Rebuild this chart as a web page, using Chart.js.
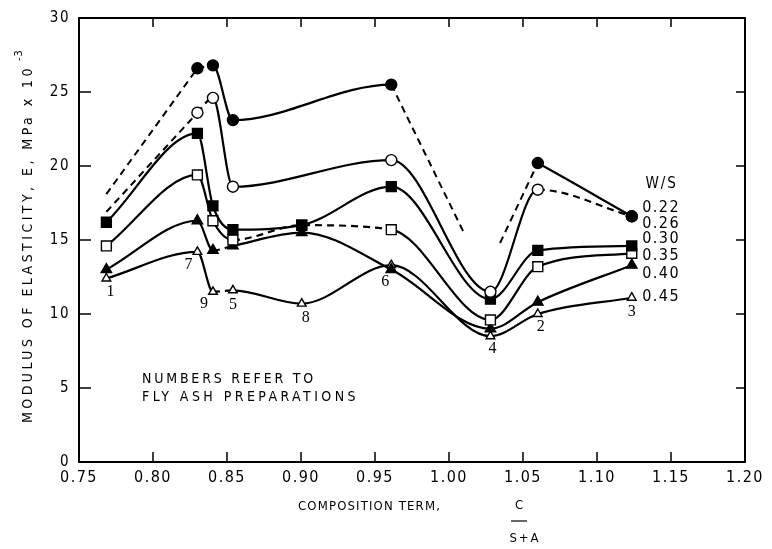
<!DOCTYPE html>
<html><head><meta charset="utf-8">
<script src="https://cdn.jsdelivr.net/npm/chart.js@4/dist/chart.umd.min.js"></script>
<style>html,body{margin:0;padding:0;background:#fff;}canvas{display:block}</style>
</head><body>
<canvas id="c" width="772" height="549"></canvas>
<script>
// ---- data ----
const xPrep = [0.7685, 0.830, 0.8405, 0.854, 0.9005, 0.961, 1.028, 1.060, 1.1235];
const prepNumbers = ['1', '7', '9', '5', '8', '6', '4', '2', '3'];
const wsLabels = ['0.22', '0.26', '0.30', '0.35', '0.40', '0.45'];
const ws022 = [null, 26.6, 26.8, 23.1, null, 25.5, null, 20.2, 16.6];
const ws026 = [null, 23.6, 24.6, 18.6, null, 20.4, 11.5, 18.4, 16.6];
const ws030 = [16.2, 22.2, 17.3, 15.7, 16.0, 18.6, 11.0, 14.3, 14.6];
const ws035 = [14.6, 19.4, 16.3, 15.0, 16.0, 15.7, 9.6, 13.2, 14.1];
const ws040 = [13.0, 16.3, 14.3, 14.6, 15.5, 13.0, 9.0, 10.8, 13.3];
const ws045 = [12.4, 14.2, 11.5, 11.6, 10.7, 13.3, 8.5, 10.0, 11.1];
// free ends of the dashed extrapolations (no marker)
const ws022Lead = [0.7685, 18.1];
const ws026Lead = [0.7685, 16.9];
const ws022GapEnds = [[1.011, 15.3], [1.0345, 14.8]];

// ---- styling / layout (not data) ----
const FONT = "'DejaVu Sans Condensed', 'DejaVu Sans', sans-serif";
const DASH = [7, 5];
const seriesStyle = [
  {style: 'circle', r: 5.5, fill: '#000', dashAfter: [1], hideAfter: [5]},
  {style: 'circle', r: 5.5, fill: '#fff', dashAfter: [1, 7], hideAfter: []},
  {style: 'rect', r: 7, fill: '#000', dashAfter: [], hideAfter: []},
  {style: 'rect', r: 7, fill: '#fff', dashAfter: [3, 4], hideAfter: []},
  {style: 'triangle', r: 6, fill: '#000', dashAfter: [2], hideAfter: []},
  {style: 'triangle', r: 5, fill: '#fff', dashAfter: [2], hideAfter: []}
];
const numberOffsets = [[4, 13], [-9, 13], [-9, 12], [0, 14], [4, 14], [-6, 17], [2, 13], [3, 13], [0, 14]];
const legendPos = {ws: [1.1437, 18.77], x: 1.1305, ys: [17.15, 16.12, 15.06, 13.94, 12.74, 11.13]};

const seriesValues = [ws022, ws026, ws030, ws035, ws040, ws045];

const datasets = seriesValues.map((vals, k) => {
  const st = seriesStyle[k];
  const pts = [];
  vals.forEach((v, i) => { if (v !== null) pts.push({x: xPrep[i], y: v, idx: i}); });
  return {
    label: wsLabels[k],
    data: pts,
    borderColor: '#000',
    borderWidth: 2.2,
    cubicInterpolationMode: 'monotone',
    pointStyle: st.style,
    pointRadius: st.r,
    pointBackgroundColor: st.fill,
    pointBorderColor: '#000',
    pointBorderWidth: 1.4,
    order: k,
    segment: {
      borderDash: c => st.dashAfter.includes(pts[c.p0DataIndex].idx) ? DASH : undefined,
      borderColor: c => st.hideAfter.includes(pts[c.p0DataIndex].idx) ? 'rgba(0,0,0,0)' : undefined
    }
  };
});

// straight dashed extrapolations
function dashLine(a, b) {
  return {
    data: [{x: a[0], y: a[1]}, {x: b[0], y: b[1]}],
    borderColor: '#000', borderWidth: 2, borderDash: DASH,
    tension: 0, pointRadius: 0, order: 10
  };
}
datasets.push(
  dashLine(ws022Lead, [xPrep[1], ws022[1]]),
  dashLine([xPrep[5], ws022[5]], ws022GapEnds[0]),
  dashLine(ws022GapEnds[1], [xPrep[7], ws022[7]]),
  dashLine(ws026Lead, [xPrep[1], ws026[1]])
);

function txt(ctx, s, x, y, font, align, spacing, baseline) {
  ctx.save();
  ctx.font = font; ctx.fillStyle = '#000';
  ctx.letterSpacing = (spacing || 0) + 'px';
  ctx.textAlign = align || 'left'; ctx.textBaseline = baseline || 'middle';
  ctx.fillText(s, x, y);
  ctx.restore();
}
function fitText(ctx, s, x, y, font, width) {
  ctx.save(); ctx.font = font; ctx.letterSpacing = '0px';
  const w = ctx.measureText(s).width; ctx.restore();
  const sp = (width - w) / s.length;
  txt(ctx, s, x, y, font, 'left', sp);
}

const decor = {
  id: 'decor',
  beforeDraw(chart) { chart.ctx.letterSpacing = '1.5px'; },
  afterDraw(chart) {
    const ctx = chart.ctx, a = chart.chartArea, xs = chart.scales.x, ys = chart.scales.y;
    ctx.save();
    ctx.letterSpacing = '0px';
    ctx.strokeStyle = '#000';
    ctx.lineWidth = 2;
    ctx.strokeRect(a.left, a.top, a.right - a.left, a.bottom - a.top);
    ctx.lineWidth = 1.5;
    ctx.beginPath();
    xs.ticks.forEach(t => {
      const p = xs.getPixelForValue(t.value);
      if (p <= a.left + 2 || p >= a.right - 2) return;
      ctx.moveTo(p, a.bottom); ctx.lineTo(p, a.bottom - 10);
      ctx.moveTo(p, a.top); ctx.lineTo(p, a.top + 9);
    });
    ys.ticks.forEach(t => {
      const p = ys.getPixelForValue(t.value);
      if (p <= a.top + 2 || p >= a.bottom - 2) return;
      ctx.moveTo(a.left, p); ctx.lineTo(a.left + 12, p);
      ctx.moveTo(a.right, p); ctx.lineTo(a.right - 9, p);
    });
    ctx.stroke();
    ctx.restore();

    // preparation numbers below open-triangle points
    const numFont = "16px 'Liberation Serif', serif";
    xPrep.forEach((xv, i) => {
      const px = xs.getPixelForValue(xv) + numberOffsets[i][0];
      const py = ys.getPixelForValue(ws045[i]) + numberOffsets[i][1];
      txt(ctx, prepNumbers[i], px, py, numFont, 'center', 0);
    });

    // W/S legend
    const lf = '16px ' + FONT;
    txt(ctx, 'W/S', xs.getPixelForValue(legendPos.ws[0]), ys.getPixelForValue(legendPos.ws[1]), '15px ' + FONT, 'center', 2);
    wsLabels.forEach((l, k) => {
      txt(ctx, l, xs.getPixelForValue(legendPos.x), ys.getPixelForValue(legendPos.ys[k]), lf, 'left', 1.5);
    });

    // note
    fitText(ctx, 'NUMBERS REFER TO', a.left + 63, a.top + 361, '14px ' + FONT, 174);
    fitText(ctx, 'FLY ASH PREPARATIONS', a.left + 63, a.top + 379, '14px ' + FONT, 217);

    // x title
    fitText(ctx, 'COMPOSITION TERM,', 298, 507, '13px ' + FONT, 143);
    txt(ctx, 'C', 519, 506, '13px ' + FONT, 'center', 0);
    ctx.save(); ctx.lineWidth = 1.2; ctx.beginPath(); ctx.moveTo(511, 521); ctx.lineTo(527, 521); ctx.stroke(); ctx.restore();
    txt(ctx, 'S+A', 525, 539, '13px ' + FONT, 'center', 2);

    // y title (rotated)
    ctx.save();
    ctx.translate(28, 245);
    ctx.rotate(-Math.PI / 2);
    fitText(ctx, 'MODULUS OF ELASTICITY, E, MPa x 10', -178, 0, '14px ' + FONT, 358);
    txt(ctx, '-3', 184, -9, '11px ' + FONT, 'left', 1);
    ctx.restore();
  }
};

new Chart(document.getElementById('c'), {
  type: 'line',
  data: {datasets},
  options: {
    responsive: false,
    devicePixelRatio: 1,
    animation: false,
    events: [],
    layout: {padding: {left: 0, right: 27, top: 17, bottom: 0}},
    plugins: {legend: {display: false}, tooltip: {enabled: false}},
    scales: {
      x: {
        type: 'linear', min: 0.75, max: 1.20,
        afterFit: s => { s.height = 87; },
        grid: {display: false, drawTicks: false},
        border: {display: false},
        ticks: {
          stepSize: 0.05, padding: 6, color: '#000', maxRotation: 0, autoSkip: false,
          font: {family: FONT, size: 16},
          callback: v => Number(v).toFixed(2)
        }
      },
      y: {
        min: 0, max: 30,
        afterFit: s => { s.width = 79; },
        grid: {display: false, drawTicks: false},
        border: {display: false},
        ticks: {stepSize: 5, padding: 9, color: '#000', font: {family: FONT, size: 15}}
      }
    }
  },
  plugins: [decor]
});
</script>
</body></html>
